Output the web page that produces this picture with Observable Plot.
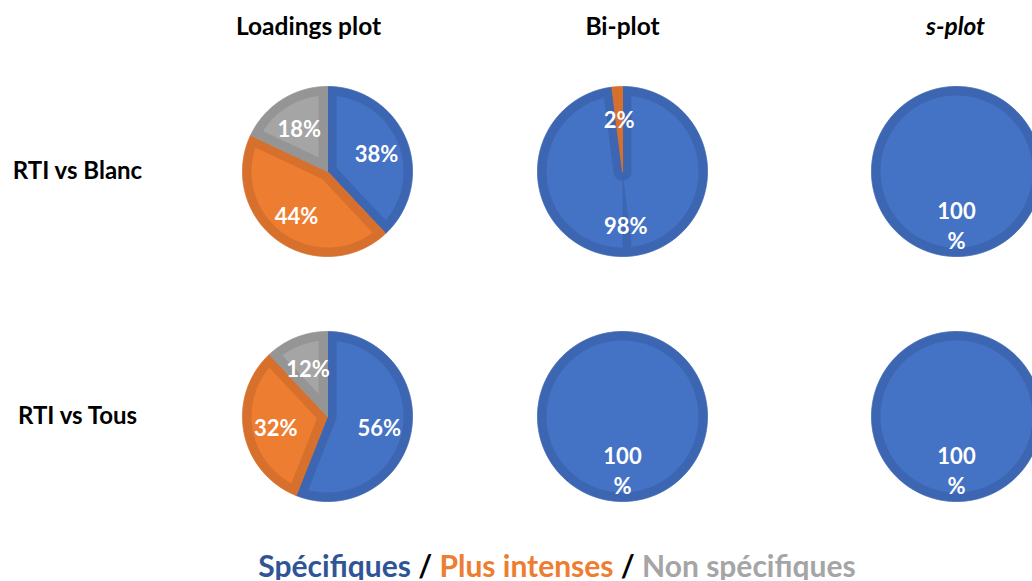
<!DOCTYPE html>
<html><head><meta charset="utf-8">
<script src="https://cdn.jsdelivr.net/npm/d3@7"></script>
<script src="https://cdn.jsdelivr.net/npm/@observablehq/plot@0.6"></script>
<style>
body{margin:0;background:#fff;overflow:hidden;font-family:Lato,"Open Sans",sans-serif;}
#legend{font-weight:700;font-size:30px;line-height:30px;text-align:center;padding-left:82px;white-space:nowrap;}
</style>
</head><body>
<div id="chart"></div>
<div id="legend"></div>
<script>
// ---- data ----
const columns = ["Loadings plot", "Bi-plot", "s-plot"];
const rows = ["RTI vs Blanc", "RTI vs Tous"];
const categories = ["Spécifiques", "Plus intenses", "Non spécifiques"];
// row-major: [Blanc/Loadings, Blanc/Bi, Blanc/s, Tous/Loadings, Tous/Bi, Tous/s]
const specifiques    = [38, 98, 100, 56, 100, 100];
const plusIntenses   = [44,  2,   0, 32,   0,   0];
const nonSpecifiques = [18,  0,   0, 12,   0,   0];

// ---- styles / layout ----
const fills   = ["#4472C4", "#ED7D31", "#A5A5A5"];
const borders = ["#3C66B2", "#D6702C", "#959595"];
const legendColors = ["#2F5597", "#ED7D31", "#A5A5A5"];
const W = 1032, H = 550;
const colX = [327, 622, 956], rowY = [171, 416];
const titleX = [308, 622, 955], titleY = 27, rowLabelX = 77;
const R = 85, BW = 9, labelFrac = 0.62;

const series = [specifiques, plusIntenses, nonSpecifiques];
const outerPts = [], innerPts = [], labels = [];
const pt = (cx, cy, rho, phi) => ({x: cx + rho * Math.sin(phi), y: cy - rho * Math.cos(phi)});

rows.forEach((rowName, ri) => {
  columns.forEach((colName, ci) => {
    const idx = ri * columns.length + ci;
    const cx = colX[ci], cy = rowY[ri];
    const vals = series.map(s => s[idx]);
    const total = d3.sum(vals);
    let acc = 0;
    vals.forEach((v, k) => {
      if (v <= 0) return;
      const a0 = acc / total * 2 * Math.PI;
      acc += v;
      const a1 = acc / total * 2 * Math.PI;
      const theta = a1 - a0;
      const full = theta >= 2 * Math.PI - 1e-9;
      const id = `p${idx}s${k}`;
      const n = Math.max(8, Math.ceil(theta * 180 / Math.PI * 4));
      const phis = d3.range(n + 1).map(i => a0 + theta * i / n);
      // outer slice (border colour)
      const outer = [];
      if (!full) outer.push({x: cx, y: cy});
      phis.forEach(p => outer.push(pt(cx, cy, R, p)));
      outer.push(outer[0]);
      outer.forEach(o => outerPts.push({...o, id, c: borders[k]}));
      // inner fill region (inset by border width, miter join)
      const rIn = R - BW;
      const rmin = p => {
        if (full) return 0;
        const d0 = p - a0, d1 = a1 - p;
        const c0 = d0 < Math.PI / 2 ? BW / Math.sin(d0) : BW;
        const c1 = d1 < Math.PI / 2 ? BW / Math.sin(d1) : BW;
        let km = 0;
        if (theta > Math.PI && d0 > Math.PI / 2 && d0 < Math.PI && d1 > Math.PI / 2 && d1 < Math.PI)
          km = Math.min(BW / Math.sin(d0), BW / Math.sin(d1));
        const m = Math.max(c0, c1, km);
        return Math.min(isFinite(m) ? m : rIn, rIn);
      };
      const inner = [];
      phis.forEach(p => inner.push(pt(cx, cy, rIn, p)));
      if (!full) phis.slice().reverse().forEach(p => inner.push(pt(cx, cy, rmin(p), p)));
      inner.push(inner[0]);
      inner.forEach(o => innerPts.push({...o, id, c: fills[k]}));
      // label
      const mid = (a0 + a1) / 2;
      const lp = pt(cx, cy, R * labelFrac, mid);
      labels.push({...lp, text: v === 100 ? "100\n%" : `${v}%`});
    });
  });
});

const titles = columns.map((t, i) => ({t, x: titleX[i], y: titleY, italic: i === 2}));
const rowLabels = rows.map((t, i) => ({t, x: rowLabelX, y: rowY[i]}));

const chart = Plot.plot({
  width: W, height: H, margin: 0,
  x: {domain: [0, W], range: [0, W], axis: null},
  y: {domain: [0, H], range: [0, H], axis: null},
  color: {type: "identity"},
  style: {fontFamily: "Lato, 'Open Sans', sans-serif", background: "white"},
  marks: [
    Plot.line(outerPts, {x: "x", y: "y", z: "id", fill: "c", stroke: "c", strokeWidth: 1, curve: "linear"}),
    Plot.line(innerPts, {x: "x", y: "y", z: "id", fill: "c", stroke: "none", curve: "linear"}),
    Plot.text(labels, {x: "x", y: "y", text: "text", fill: "white", fontSize: 22, fontWeight: "bold", lineHeight: 1.35}),
    Plot.text(titles.filter(d => !d.italic), {x: "x", y: "y", text: "t", fill: "black", fontSize: 24.5, fontWeight: "bold"}),
    Plot.text(titles.filter(d => d.italic), {x: "x", y: "y", text: "t", fill: "black", fontSize: 24.5, fontWeight: "bold", fontStyle: "italic"}),
    Plot.text(rowLabels, {x: "x", y: "y", text: "t", fill: "black", fontSize: 24, fontWeight: "bold"})
  ]
});
document.getElementById("chart").appendChild(chart);

const legend = document.getElementById("legend");
categories.forEach((c, i) => {
  if (i > 0) {
    const s = document.createElement("span");
    s.textContent = " / ";
    s.style.color = "#000";
    legend.appendChild(s);
  }
  const sp = document.createElement("span");
  sp.textContent = c;
  sp.style.color = legendColors[i];
  legend.appendChild(sp);
});
</script>
</body></html>
